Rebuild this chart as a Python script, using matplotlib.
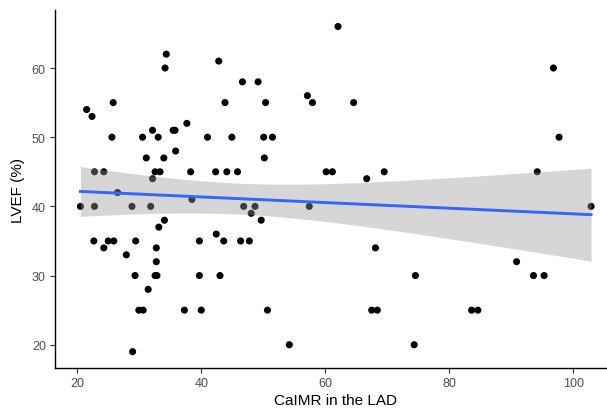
import numpy as np
import matplotlib
matplotlib.use("Agg")
import matplotlib.pyplot as plt

caimr = [20.5, 21.5, 22.37, 22.77, 22.77, 22.67, 24.28, 24.28, 24.99, 25.59, 25.79, 25.89, 26.5,
         27.91, 28.82, 28.92, 29.42, 29.32, 29.93, 30.63, 30.53, 31.13, 31.44, 31.84, 32.14, 32.14,
         32.55, 33.35, 32.55, 32.85, 32.75, 32.75, 33.05, 33.15, 33.96, 34.06, 34.16, 34.36, 35.47,
         35.77, 35.87, 37.28, 37.68, 38.29, 38.49, 39.7, 39.7, 40.0, 41.01, 42.32, 42.42, 42.82,
         43.02, 43.63, 43.83, 44.13, 44.94, 45.85, 46.35, 46.65, 46.85, 47.76, 48.06, 48.67, 49.17,
         49.67, 50.08, 50.18, 50.38, 50.68, 51.49, 54.21, 57.13, 57.43, 57.94, 60.15, 61.16, 62.07,
         64.59, 66.7, 67.51, 68.11, 68.41, 69.52, 74.36, 74.56, 83.63, 84.64, 90.88, 93.61, 94.21,
         95.32, 96.83, 97.74, 102.9]
lvef = [40, 54, 53, 45, 40, 35, 45, 34, 35, 50, 55, 35, 42,
        33, 40, 19, 35, 30, 25, 25, 50, 47, 28, 40, 44, 51,
        45, 45, 30, 30, 32, 34, 50, 37, 47, 38, 60, 62, 51,
        51, 48, 25, 52, 45, 41, 35, 30, 25, 50, 45, 36, 61,
        30, 35, 55, 45, 50, 45, 35, 58, 40, 35, 39, 40, 58,
        38, 50, 47, 55, 25, 50, 20, 56, 40, 55, 45, 45, 66,
        55, 44, 25, 34, 25, 45, 20, 30, 25, 25, 32, 30, 45,
        30, 60, 50, 40]

x_ticks = [20, 40, 60, 80, 100]
y_ticks = [20, 30, 40, 50, 60]

x = np.array(caimr)
y = np.array(lvef)
n = len(x)
b1, b0 = np.polyfit(x, y, 1)
xs = np.linspace(x.min(), x.max(), 80)
ys = b0 + b1 * xs
resid = y - (b0 + b1 * x)
s = np.sqrt(np.sum(resid**2) / (n - 2))
sxx = np.sum((x - x.mean())**2)
se = s * np.sqrt(1.0 / n + (xs - x.mean())**2 / sxx)
tcrit = 1.986
lo = ys - tcrit * se
hi = ys + tcrit * se

plt.rcParams['font.family'] = ['Liberation Sans', 'DejaVu Sans']
fig = plt.figure(figsize=(6.07, 4.10), dpi=100)
ax = fig.add_axes([0.0904, 0.1002, 0.9254, 0.8724])

ax.scatter(x, y, s=26, color='black', edgecolors='none', zorder=2)
ax.fill_between(xs, lo, hi, color='#999999', alpha=0.4, linewidth=0, zorder=3)
ax.plot(xs, ys, color='#3366FF', lw=2.1, zorder=4)

xr = x.max() - x.min()
yr = y.max() - y.min()
ax.set_xlim(x.min() - 0.05 * xr, x.max() + 0.05 * xr)
ax.set_ylim(y.min() - 0.05 * yr, y.max() + 0.05 * yr)
ax.set_xticks(x_ticks)
ax.set_yticks(y_ticks)
for sp in ['top', 'right']:
    ax.spines[sp].set_visible(False)
for sp in ['left', 'bottom']:
    ax.spines[sp].set_linewidth(1.0)
    ax.spines[sp].set_color('black')
ax.tick_params(axis='both', length=3.5, width=0.8, color='#333333',
               labelcolor='#4D4D4D', labelsize=9, pad=3)
ax.set_xlabel('CaIMR in the LAD', fontsize=11, color='black', labelpad=3)
ax.set_ylabel('LVEF (%)', fontsize=11, color='black', labelpad=5)

fig.savefig('out.png', dpi=100)
